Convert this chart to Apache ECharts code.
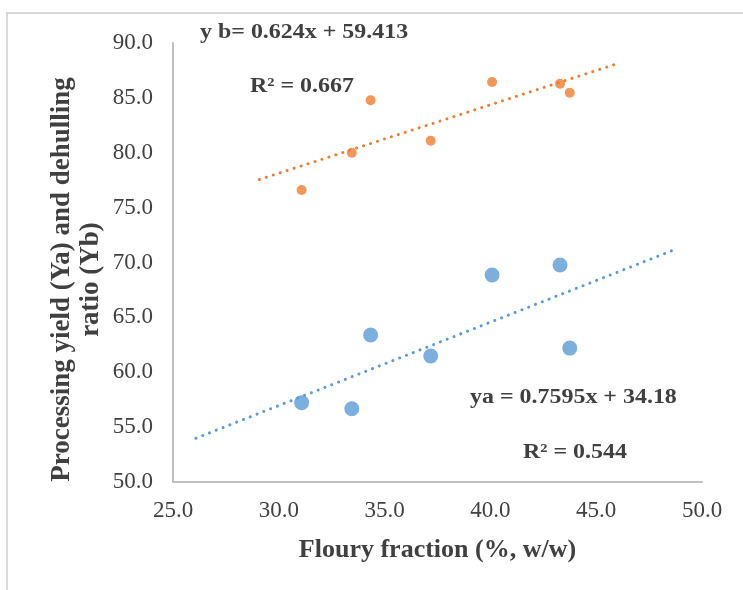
<!DOCTYPE html>
<html>
<head>
<meta charset="utf-8">
<script src="https://cdn.jsdelivr.net/npm/echarts@6/dist/echarts.min.js"></script>
<style>
html,body{margin:0;padding:0;background:#fff;}
#chart{width:743px;height:590px;}
</style>
</head>
<body>
<div id="chart"></div>
<script>
// Data
var flouryFraction = [31.08, 33.45, 34.34, 37.18, 40.08, 43.29, 43.75];
var processingYieldYa = [57.23, 56.68, 63.4, 61.48, 68.86, 69.77, 62.2];
var dehullingRatioYb = [76.6, 80.0, 84.78, 81.1, 86.45, 86.29, 85.47];
// Trendline coefficients [slope, intercept] and extents [from, to]
var trendYa = [0.7595, 34.18];
var trendYb = [0.624, 59.413];
var trendYaRange = [26.08, 48.75];
var trendYbRange = [29.08, 45.85];
var xTicks = [25, 30, 35, 40, 45, 50];
var yTicks = [50, 55, 60, 65, 70, 75, 80, 85, 90];
var eqYb = 'y b= 0.624x + 59.413';
var r2Yb = 'R\u00b2 = 0.667';
var eqYa = 'ya = 0.7595x + 34.18';
var r2Ya = 'R\u00b2 = 0.544';

function pairs(xs, ys){ return xs.map(function(x,i){ return [x, ys[i]]; }); }
function trend(coef, range){
  return range.map(function(x){ return [x, coef[0]*x + coef[1]]; });
}

var serif = '"Liberation Serif", "Times New Roman", serif';
var txt = '#404040';
function label(t, x, y){
  return {type: 'text', x: x, y: y, scaleX: 1.14, scaleY: 1,
          style: {text: t, font: 'bold 21px ' + serif, fill: txt, verticalAlign: 'middle', align: 'left'}};
}
var chart = echarts.init(document.getElementById('chart'));
chart.setOption({
  animation: false,
  backgroundColor: '#fff',
  grid: {left: 173, right: 41, top: 43, bottom: 108},
  xAxis: {
    type: 'value', min: xTicks[0], max: xTicks[xTicks.length-1], interval: 5,
    axisLine: {show: true, lineStyle: {color: '#bfbfbf', width: 2}},
    axisTick: {show: false}, splitLine: {show: false},
    axisLabel: {formatter: function(v){ return v.toFixed(1); }, fontFamily: serif, fontSize: 23, color: txt, margin: 17},
    name: 'Floury fraction (%, w/w)', nameLocation: 'middle', nameGap: 55,
    nameTextStyle: {fontFamily: serif, fontSize: 26, fontWeight: 'bold', color: txt}
  },
  yAxis: {
    type: 'value', min: yTicks[0], max: yTicks[yTicks.length-1], interval: 5,
    axisLine: {show: true, lineStyle: {color: '#bfbfbf', width: 2}},
    axisTick: {show: false}, splitLine: {show: false},
    axisLabel: {formatter: function(v){ return v.toFixed(1); }, fontFamily: serif, fontSize: 23, color: txt, margin: 20},
    name: 'Processing yield (Ya) and dehulling\nratio (Yb)', nameLocation: 'middle', nameGap: 67, nameRotate: 90,
    nameMoveOverlap: false,
    nameTextStyle: {fontFamily: serif, fontSize: 27, fontWeight: 'bold', color: txt, lineHeight: 29, padding: [0,0,0,-34]}
  },
  series: [
    {type: 'line', data: trend(trendYa, trendYaRange), showSymbol: false, symbol: 'none',
     lineStyle: {color: '#5B9BD5', width: 3, type: [0.1, 7.2], cap: 'round'}, z: 1},
    {type: 'line', data: trend(trendYb, trendYbRange), showSymbol: false, symbol: 'none',
     lineStyle: {color: '#ED7D31', width: 3, type: [0.1, 7.2], cap: 'round'}, z: 1},
    {type: 'scatter', data: pairs(flouryFraction, processingYieldYa), symbolSize: 15,
     itemStyle: {color: '#5B9BD5'}, z: 3},
    {type: 'scatter', data: pairs(flouryFraction, dehullingRatioYb), symbolSize: 10,
     itemStyle: {color: '#ED7D31'}, z: 3}
  ],
  graphic: [
    {type: 'rect', shape: {x: 7, y: 13, width: 760, height: 600}, style: {fill: 'none', stroke: '#d9d9d9', lineWidth: 2}, silent: true},
    label(eqYb, 200, 33),
    label(r2Yb, 250, 87),
    label(eqYa, 470, 398),
    label(r2Ya, 523, 453)
  ]
});
</script>
</body>
</html>
